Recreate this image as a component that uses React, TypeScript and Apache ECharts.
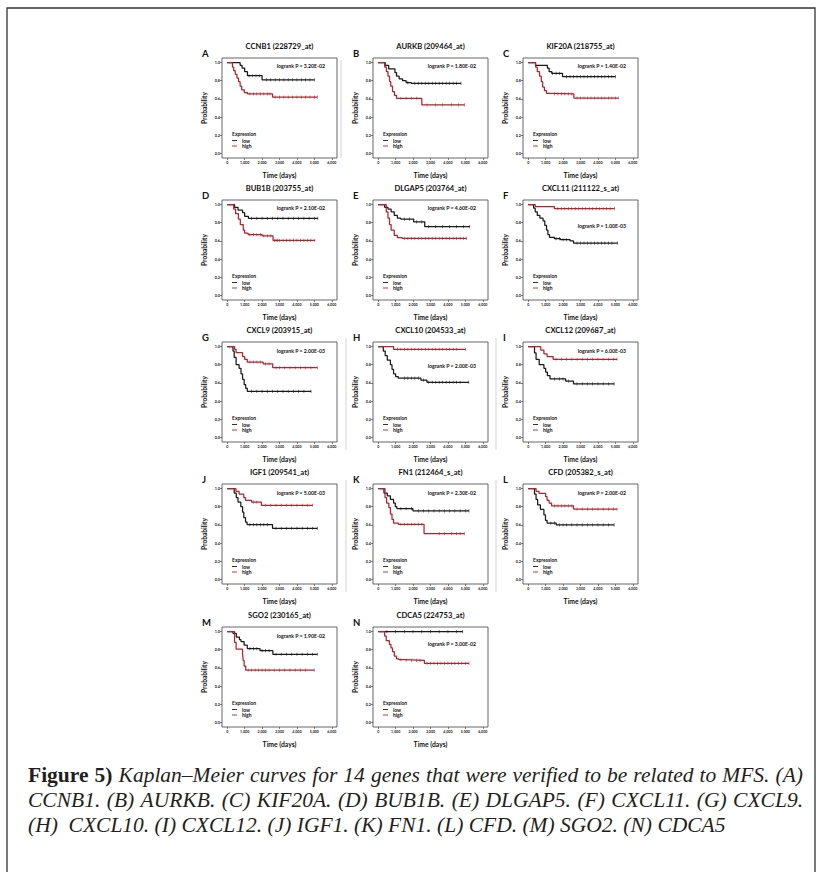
import { useEffect, useRef } from "react";
import * as echarts from "echarts";

// ---------------- data ----------------
const panelLetters = ["A", "B", "C", "D", "E", "F", "G", "H", "I", "J", "K", "L", "M", "N"];
const probeTitles = [
  "CCNB1 (228729_at)", "AURKB (209464_at)", "KIF20A (218755_at)",
  "BUB1B (203755_at)", "DLGAP5 (203764_at)", "CXCL11 (211122_s_at)",
  "CXCL9 (203915_at)", "CXCL10 (204533_at)", "CXCL12 (209687_at)",
  "IGF1 (209541_at)", "FN1 (212464_s_at)", "CFD (205382_s_at)",
  "SGO2 (230165_at)", "CDCA5 (224753_at)",
];
const logrankP = [
  "3.20E-02", "1.80E-02", "1.40E-02", "2.10E-02", "4.60E-02", "1.00E-03", "2.00E-03",
  "2.00E-03", "6.00E-03", "5.00E-03", "2.30E-02", "2.00E-02", "1.90E-02", "3.00E-02",
];
const groupNames = ["low", "high"];
const timeTicks = [0, 1000, 2000, 3000, 4000, 5000, 6000];
const probTicks = [0, 0.2, 0.4, 0.6, 0.8, 1.0];

// Kaplan–Meier step points [time, survival] and censoring times
const lowA = [[0, 1], [740, 0.97], [850, 0.94], [1000, 0.9], [1160, 0.855], [2000, 0.81], [5000, 0.81]];
const highA = [[0, 1], [300, 0.95], [370, 0.91], [460, 0.87], [560, 0.83], [650, 0.79], [740, 0.74], [830, 0.7], [980, 0.67], [1160, 0.655], [2600, 0.62], [5170, 0.62]];
const censLowA = [1250, 1450, 1650, 1850, 2250, 2500, 2750, 3000, 3250, 3500, 3750, 4000, 4250, 4500, 4750, 5000];
const censHighA = [1300, 1500, 1700, 1900, 2100, 2300, 2450, 2750, 3000, 3250, 3500, 3750, 4000, 4250, 4500, 4750, 5000, 5170];

const lowB = [[0, 1], [400, 0.97], [600, 0.93], [960, 0.89], [1050, 0.85], [1200, 0.82], [1400, 0.8], [1600, 0.78], [1900, 0.77], [4750, 0.77]];
const highB = [[0, 1], [370, 0.95], [470, 0.9], [560, 0.85], [650, 0.79], [720, 0.74], [820, 0.68], [930, 0.64], [1050, 0.607], [2500, 0.535], [4950, 0.535]];
const censLowB = [1700, 2100, 2300, 2500, 2700, 2900, 3100, 3300, 3500, 3700, 3900, 4100, 4300, 4500, 4750];
const censHighB = [1300, 1600, 1900, 2200, 2800, 3300, 3700, 4200, 4600, 4950];

const lowC = [[0, 1], [420, 0.97], [1100, 0.94], [1200, 0.9], [1350, 0.88], [1970, 0.845], [5000, 0.845]];
const highC = [[0, 1], [420, 0.95], [520, 0.9], [650, 0.85], [750, 0.79], [830, 0.73], [930, 0.69], [1050, 0.66], [1300, 0.655], [2620, 0.61], [5170, 0.61]];
const censLowC = [1400, 1600, 1800, 2200, 2400, 2600, 2800, 3000, 3200, 3400, 3600, 3800, 4000, 4200, 4400, 4600, 4800, 5000];
const censHighC = [1500, 1700, 1900, 2100, 2300, 2500, 2800, 3000, 3200, 3400, 3600, 3800, 4000, 4200, 4400, 4600, 4800, 5000, 5170];

const lowD = [[0, 1], [420, 0.97], [620, 0.94], [880, 0.91], [1000, 0.87], [1215, 0.847], [5200, 0.847]];
const highD = [[0, 1], [370, 0.95], [480, 0.9], [640, 0.84], [750, 0.78], [920, 0.72], [1000, 0.685], [1200, 0.67], [2000, 0.655], [2630, 0.605], [5030, 0.605]];
const censLowD = [1400, 1700, 2000, 2300, 2600, 2900, 3200, 3500, 3800, 4100, 4400, 4700, 5000, 5200];
const censHighD = [1300, 1500, 1700, 1900, 2100, 2300, 2500, 2700, 2800, 2900, 3000, 3200, 3400, 3600, 3800, 4000, 4200, 4400, 4600, 4800, 5030];

const lowE = [[0, 1], [370, 0.97], [560, 0.95], [740, 0.92], [920, 0.88], [1100, 0.85], [1290, 0.84], [2030, 0.81], [2670, 0.757], [5250, 0.757]];
const highE = [[0, 1], [460, 0.92], [560, 0.85], [650, 0.78], [740, 0.72], [920, 0.66], [1100, 0.635], [1380, 0.627], [5060, 0.627]];
const censLowE = [1500, 1800, 2200, 2500, 2900, 3300, 3700, 4100, 4500, 4900, 5250];
const censHighE = [1500, 1700, 1900, 2100, 2300, 2500, 2700, 2900, 3100, 3300, 3500, 3700, 3900, 4100, 4300, 4500, 4700, 4900, 5060];

const lowF = [[0, 1], [310, 0.96], [400, 0.92], [520, 0.88], [670, 0.85], [850, 0.82], [950, 0.77], [1050, 0.72], [1130, 0.67], [1220, 0.64], [1500, 0.625], [1850, 0.615], [2400, 0.6], [2600, 0.575], [5130, 0.575]];
const highF = [[0, 1], [400, 0.978], [1500, 0.955], [4950, 0.955]];
const censLowF = [1600, 1800, 2000, 2200, 2800, 3000, 3200, 3400, 3600, 3800, 4000, 4200, 4400, 4600, 4800, 5130];
const censHighF = [1700, 1900, 2100, 2300, 2500, 2700, 2900, 3100, 3300, 3500, 3700, 3900, 4100, 4300, 4500, 4700, 4950];

const lowG = [[0, 1], [330, 0.95], [400, 0.88], [510, 0.8], [680, 0.76], [790, 0.7], [880, 0.64], [970, 0.58], [1060, 0.54], [1150, 0.507], [4810, 0.507]];
const highG = [[0, 1], [420, 0.97], [510, 0.933], [880, 0.89], [1000, 0.86], [1150, 0.83], [2060, 0.81], [2610, 0.767], [5170, 0.767]];
const censLowG = [1400, 1700, 2000, 2300, 2600, 2900, 3200, 3500, 3800, 4100, 4400, 4810];
const censHighG = [1300, 1500, 1700, 1900, 2200, 2400, 2800, 3000, 3300, 3600, 3900, 4200, 4500, 4800, 5170];

const lowH = [[0, 1], [290, 0.95], [400, 0.9], [520, 0.85], [700, 0.8], [790, 0.75], [880, 0.7], [1000, 0.67], [1150, 0.652], [2450, 0.63], [2800, 0.607], [5200, 0.607]];
const highH = [[0, 1], [880, 0.97], [5000, 0.97]];
const censLowH = [1500, 1700, 1900, 2100, 2300, 2600, 2900, 3100, 3300, 3500, 3700, 3900, 4100, 4300, 4500, 4700, 5200];
const censHighH = [1100, 1300, 1500, 1700, 1900, 2100, 2300, 2500, 2700, 2900, 3100, 3300, 3500, 3700, 3900, 4100, 4300, 4500, 5000];

const lowI = [[0, 1], [360, 0.93], [450, 0.86], [630, 0.8], [900, 0.76], [1000, 0.72], [1100, 0.68], [1250, 0.644], [2150, 0.62], [2600, 0.589], [4930, 0.589]];
const highI = [[0, 1], [720, 0.96], [900, 0.92], [1080, 0.89], [1430, 0.86], [5100, 0.86]];
const censLowI = [1500, 1800, 2000, 2300, 2800, 3100, 3400, 3700, 4000, 4300, 4600, 4930];
const censHighI = [1600, 1900, 2200, 2500, 2800, 3100, 3400, 3700, 4000, 4300, 4600, 4900, 5100];

const lowJ = [[0, 1], [400, 0.95], [520, 0.9], [620, 0.85], [780, 0.8], [880, 0.74], [950, 0.68], [1050, 0.63], [1140, 0.603], [2600, 0.563], [5170, 0.563]];
const highJ = [[0, 1], [500, 0.97], [680, 0.94], [950, 0.9], [1050, 0.87], [1400, 0.85], [1960, 0.816], [4900, 0.816]];
const censLowJ = [1300, 1500, 1700, 1900, 2100, 2300, 2800, 3100, 3400, 3700, 4000, 4300, 4600, 4900, 5170];
const censHighJ = [1500, 1700, 2200, 2500, 2800, 3100, 3400, 3700, 4000, 4300, 4600, 4900];

const lowK = [[0, 1], [330, 0.95], [520, 0.92], [700, 0.88], [880, 0.84], [980, 0.8], [1070, 0.78], [1990, 0.755], [5210, 0.755]];
const highK = [[0, 1], [390, 0.9], [480, 0.84], [610, 0.79], [700, 0.72], [790, 0.66], [880, 0.62], [1160, 0.607], [2630, 0.505], [4940, 0.505]];
const censLowK = [1300, 1600, 1900, 2300, 2600, 2900, 3200, 3500, 3800, 4100, 4400, 4700, 5000, 5210];
const censHighK = [1300, 1500, 1700, 1900, 2100, 2300, 2500, 3500, 3800, 4200, 4500, 4700, 4940];

const lowL = [[0, 1], [360, 0.94], [450, 0.88], [540, 0.82], [700, 0.77], [900, 0.71], [990, 0.65], [1080, 0.62], [1610, 0.6], [4930, 0.6]];
const highL = [[0, 1], [450, 0.97], [620, 0.946], [1000, 0.91], [1080, 0.87], [1200, 0.84], [1340, 0.81], [2600, 0.774], [5100, 0.774]];
const censLowL = [1300, 1500, 1800, 2000, 2200, 2500, 2800, 3100, 3400, 3700, 4000, 4300, 4600, 4930];
const censHighL = [1500, 1700, 1900, 2100, 2300, 2500, 2800, 3100, 3400, 3700, 4000, 4300, 4600, 4900, 5100];

const lowM = [[0, 1], [330, 0.98], [520, 0.94], [700, 0.91], [790, 0.89], [970, 0.85], [1150, 0.813], [1880, 0.79], [2620, 0.75], [5170, 0.75]];
const highM = [[0, 1], [420, 0.88], [510, 0.806], [880, 0.75], [920, 0.68], [970, 0.62], [1060, 0.575], [4990, 0.575]];
const censLowM = [1300, 1500, 1700, 2000, 2200, 2400, 2800, 3100, 3400, 3700, 4000, 4300, 4600, 4900, 5170];
const censHighM = [1200, 1400, 1600, 1800, 2000, 2200, 2400, 2700, 3000, 3300, 3600, 3900, 4200, 4500, 4990];

const lowN = [[0, 1], [4850, 1]];
const highN = [[0, 1], [370, 0.95], [460, 0.9], [640, 0.86], [730, 0.82], [820, 0.78], [920, 0.73], [1050, 0.7], [1190, 0.69], [1500, 0.683], [2650, 0.65], [5210, 0.65]];
const censLowN = [500, 1000, 1500, 2000, 2500, 3000, 3500, 4000, 4500, 4850];
const censHighN = [1300, 1600, 1900, 2200, 2400, 2800, 3000, 3200, 3400, 3600, 3800, 4000, 4200, 4400, 4600, 4800, 5000, 5210];

const lowCurves = [lowA, lowB, lowC, lowD, lowE, lowF, lowG, lowH, lowI, lowJ, lowK, lowL, lowM, lowN];
const highCurves = [highA, highB, highC, highD, highE, highF, highG, highH, highI, highJ, highK, highL, highM, highN];
const lowCensors = [censLowA, censLowB, censLowC, censLowD, censLowE, censLowF, censLowG, censLowH, censLowI, censLowJ, censLowK, censLowL, censLowM, censLowN];
const highCensors = [censHighA, censHighB, censHighC, censHighD, censHighE, censHighF, censHighG, censHighH, censHighI, censHighJ, censHighK, censHighL, censHighM, censHighN];

const captionBold = ["Figure", "5)"];
const captionLines = [
  "Kaplan–Meier curves for 14 genes that were verified to be related to MFS. (A)",
  "CCNB1. (B) AURKB. (C) KIF20A. (D) BUB1B. (E) DLGAP5. (F) CXCL11. (G) CXCL9.",
  "(H)  CXCL10. (I) CXCL12. (J) IGF1. (K) FN1. (L) CFD. (M) SGO2. (N) CDCA5",
];

// ---------------- layout / style ----------------
const COL_LEFT = [222, 373, 523];
const ROW_TOP = [58, 200, 342, 484, 627];
const FRAME_W = 115;
const FRAME_H = 100;
const LOGRANK_DY = [8, 8, 8, 8, 8, 26, 9, 24, 9, 9, 9, 9, 9, 17];
const LOW_COLOR = "#1a1a1a";
const HIGH_COLOR = "#b2232b";
const PANEL_FONT = "Lato";
const CAP_FONT = "Liberation Serif";
const CAP_SIZE = 21.5;
const CAP_LEFT = 28;
const CAP_RIGHT = 803;
const CAP_Y = [775, 800, 825];
// faint crop edges visible in the source figure: [x, yTop, yBottom]
const EDGE_LINES = [[341, 60, 158], [346, 338, 450], [496, 338, 450], [346, 480, 592], [496, 480, 592]];

const stepAt = (curve: number[][], t: number) => {
  let v = curve[0][1];
  for (const [x, y] of curve) {
    if (x <= t) v = y;
    else break;
  }
  return v;
};

function buildCaption(): any[] {
  const ctx = document.createElement("canvas").getContext("2d") as CanvasRenderingContext2D;
  const fontStr = (bold: boolean, italic: boolean) =>
    `${italic ? "italic " : ""}${bold ? "bold " : ""}${CAP_SIZE}px "${CAP_FONT}"`;
  const measure = (t: string, bold: boolean, italic: boolean) => {
    ctx.font = fontStr(bold, italic);
    return ctx.measureText(t).width;
  };
  const els: any[] = [];
  const justify = (tokens: { t: string; b: boolean }[], y: number) => {
    const widths = tokens.map((k) => measure(k.t, k.b, !k.b));
    const total = widths.reduce((a, b) => a + b, 0);
    const gap = (CAP_RIGHT - CAP_LEFT - total) / (tokens.length - 1);
    let x = CAP_LEFT;
    tokens.forEach((k, i) => {
      els.push({
        type: "text",
        x,
        y,
        silent: true,
        style: {
          text: k.t,
          fontFamily: CAP_FONT,
          fontSize: CAP_SIZE,
          fontWeight: k.b ? "bold" : "normal",
          fontStyle: k.b ? "normal" : "italic",
          fill: "#231f20",
          verticalAlign: "middle",
          align: "left",
        },
      });
      x += widths[i] + gap;
    });
  };
  justify(
    [...captionBold.map((t) => ({ t, b: true })), ...captionLines[0].split(" ").map((t) => ({ t, b: false }))],
    CAP_Y[0]
  );
  justify(captionLines[1].split(" ").map((t) => ({ t, b: false })), CAP_Y[1]);
  els.push({
    type: "text",
    x: CAP_LEFT,
    y: CAP_Y[2],
    silent: true,
    style: {
      text: captionLines[2],
      fontFamily: CAP_FONT,
      fontSize: CAP_SIZE,
      fontStyle: "italic",
      fill: "#231f20",
      verticalAlign: "middle",
      align: "left",
    },
  });
  return els;
}

function buildOption(): any {
  const grids: any[] = [];
  const xAxes: any[] = [];
  const yAxes: any[] = [];
  const series: any[] = [];
  const legends: any[] = [];
  const titles: any[] = [];
  const graphics: any[] = [];

  graphics.push({
    type: "rect",
    silent: true,
    shape: { x: 7, y: 8, width: 808, height: 900 },
    style: { fill: "none", stroke: "#333", lineWidth: 1.3 },
  });
  EDGE_LINES.forEach(([x, y1, y2]) => {
    graphics.push({
      type: "line",
      silent: true,
      shape: { x1: x, y1, x2: x, y2 },
      style: { stroke: "#c8c8c8", lineWidth: 0.8 },
    });
  });

  panelLetters.forEach((letter, i) => {
    const row = Math.floor(i / 3);
    const col = i % 3;
    const left = COL_LEFT[col];
    const top = ROW_TOP[row];
    const axisText = { fontFamily: PANEL_FONT, fontWeight: "bold", color: "#111" };

    grids.push({
      left,
      top,
      width: FRAME_W,
      height: FRAME_H,
      show: true,
      borderColor: "#555",
      borderWidth: 0.9,
      backgroundColor: "transparent",
      containLabel: false,
    });
    xAxes.push({
      gridIndex: i,
      type: "value",
      min: -300,
      max: 6300,
      axisLine: { show: false, onZero: false },
      splitLine: { show: false },
      axisTick: { show: true, length: 2, lineStyle: { color: "#333", width: 0.6 }, customValues: timeTicks },
      axisLabel: { customValues: timeTicks, fontSize: 3.6, margin: 2, color: "#222", fontFamily: PANEL_FONT, fontWeight: "bold" },
      name: "Time (days)",
      nameLocation: "middle",
      nameGap: 13,
      nameMoveOverlap: false,
      nameTextStyle: { ...axisText, fontSize: 6.8 },
    });
    yAxes.push({
      gridIndex: i,
      type: "value",
      min: -0.05,
      max: 1.05,
      axisLine: { show: false, onZero: false },
      splitLine: { show: false },
      axisTick: { show: true, length: 2, lineStyle: { color: "#333", width: 0.6 }, customValues: probTicks },
      axisLabel: {
        customValues: probTicks,
        formatter: (v: number) => v.toFixed(1),
        fontSize: 3.8,
        margin: 2,
        color: "#222",
        fontFamily: PANEL_FONT,
        fontWeight: "bold",
      },
      name: "Probability",
      nameLocation: "middle",
      nameRotate: 90,
      nameGap: 15,
      nameMoveOverlap: false,
      nameTextStyle: { ...axisText, fontSize: 6.6 },
    });

    const curves = [lowCurves[i], highCurves[i]];
    const censors = [lowCensors[i], highCensors[i]];
    groupNames.forEach((g, gi) => {
      const color = gi === 0 ? LOW_COLOR : HIGH_COLOR;
      series.push({
        type: "line",
        name: g,
        xAxisIndex: i,
        yAxisIndex: i,
        data: curves[gi],
        step: "end",
        symbol: "none",
        showSymbol: false,
        color,
        itemStyle: { color },
        lineStyle: { color, width: 1.25 },
        silent: true,
        z: 3 + gi,
      });
      series.push({
        type: "scatter",
        name: g + " censored",
        xAxisIndex: i,
        yAxisIndex: i,
        data: censors[gi].map((t) => [t, stepAt(curves[gi], t)]),
        symbol: "rect",
        symbolSize: [0.7, 3.2],
        itemStyle: { color },
        silent: true,
        z: 3 + gi,
      });
    });

    legends.push({
      left: left + 10,
      top: top + 80,
      orient: "vertical",
      data: groupNames,
      icon: "rect",
      itemWidth: 5,
      itemHeight: 0.9,
      itemGap: 0.5,
      padding: 0,
      selectedMode: false,
      itemStyle: { borderWidth: 0 },
      textStyle: { fontSize: 5, fontWeight: "bold", fontFamily: PANEL_FONT, color: "#111" },
    });

    titles.push({
      text: probeTitles[i],
      left: left + FRAME_W / 2,
      top: top - 16,
      textAlign: "center",
      padding: 0,
      textStyle: { fontSize: 7.6, fontWeight: "bold", fontFamily: PANEL_FONT, color: "#111" },
    });

    graphics.push({
      type: "text",
      x: left - 20,
      y: top - 5,
      silent: true,
      style: { text: letter, fontSize: 9.5, fontWeight: "bold", fontFamily: PANEL_FONT, fill: "#111", verticalAlign: "middle", align: "left" },
    });
    graphics.push({
      type: "text",
      x: left + FRAME_W - 12,
      y: top + LOGRANK_DY[i],
      silent: true,
      style: { text: "logrank P = " + logrankP[i], fontSize: 5.2, fontWeight: "bold", fontFamily: PANEL_FONT, fill: "#111", verticalAlign: "middle", align: "right" },
    });
    graphics.push({
      type: "text",
      x: left + 10,
      y: top + 76,
      silent: true,
      style: { text: "Expression", fontSize: 5, fontWeight: "bold", fontFamily: PANEL_FONT, fill: "#111", verticalAlign: "middle", align: "left" },
    });
  });

  graphics.push(...buildCaption());

  return {
    animation: false,
    backgroundColor: "#fff",
    title: titles,
    legend: legends,
    grid: grids,
    xAxis: xAxes,
    yAxis: yAxes,
    series,
    graphic: { elements: graphics },
  };
}

export default function App() {
  const ref = useRef<HTMLDivElement>(null);
  useEffect(() => {
    if (!ref.current) return;
    const chart = echarts.init(ref.current, null, { renderer: "svg" });
    chart.setOption(buildOption());
    return () => chart.dispose();
  }, []);
  return (
    <div
      ref={ref}
      style={{ position: "fixed", left: 0, top: 0, width: 821, height: 872, background: "#fff" }}
    />
  );
}
